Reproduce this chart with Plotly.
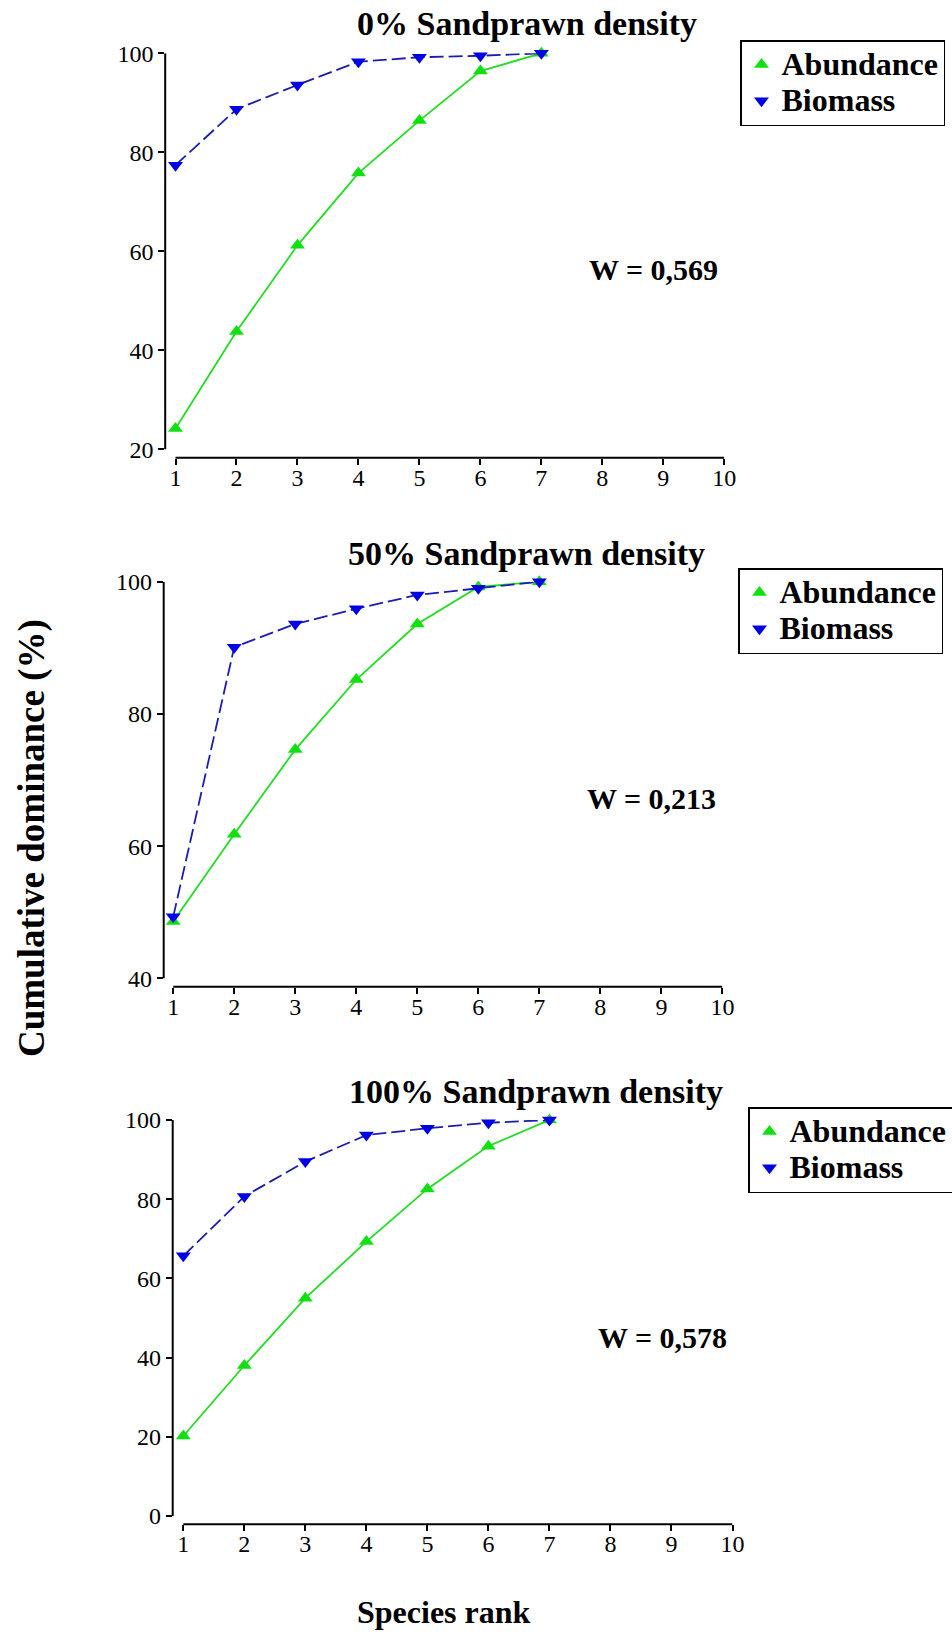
import plotly.graph_objects as go

# Species rank on the x axis
ranks = [1, 2, 3, 4, 5, 6, 7]
rank_ticks = [1, 2, 3, 4, 5, 6, 7, 8, 9, 10]

# Cumulative dominance (%) per sandprawn density treatment
abundance_0 = [24.2, 43.8, 61.2, 75.8, 86.4, 96.4, 100.0]
biomass_0 = [77.4, 88.7, 93.6, 98.3, 99.2, 99.5, 100.0]

abundance_50 = [48.6, 61.8, 74.6, 85.2, 93.6, 99.2, 100.0]
biomass_50 = [49.3, 90.1, 93.6, 95.9, 98.0, 99.0, 100.0]

abundance_100 = [20.2, 38.0, 55.0, 69.3, 82.6, 93.4, 100.0]
biomass_100 = [65.7, 80.7, 89.5, 96.2, 97.9, 99.3, 100.0]

panel_titles = ["0% Sandprawn density", "50% Sandprawn density", "100% Sandprawn density"]
w_labels = ["W = 0,569", "W = 0,213", "W = 0,578"]
y_ticks = [[20, 40, 60, 80, 100], [40, 60, 80, 100], [0, 20, 40, 60, 80, 100]]
series_names = ["Abundance", "Biomass"]

W, H = 952, 1634
SERIF = "Liberation Serif"
GREEN_LINE = "#22dd22"
GREEN_MARK = "#10e010"
BLUE_LINE = "#1c1cb0"
BLUE_MARK = "#0000e6"


def px(x):
    return x / W


def py(y):
    return 1 - y / H


# layout geometry of each panel (pixels): x domain, y domain, x range, y range
panels = [
    dict(xd=(165.2, 724.3), yd=(457.7, 53.3), xr=(0.831, 10), yr=(18.3, 100),
         title=(527, 23), w=(653, 270), leg=(740, 40)),
    dict(xd=(163.7, 722.4), yd=(986.7, 581.7), xr=(0.844, 10), yr=(38.73, 100),
         title=(526, 553), w=(651, 798), leg=(738, 568)),
    dict(xd=(172.7, 732.5), yd=(1524.3, 1120.0), xr=(0.826, 10), yr=(-2.1, 100),
         title=(536, 1091), w=(662, 1337), leg=(748, 1107)),
]

series = [(abundance_0, biomass_0), (abundance_50, biomass_50), (abundance_100, biomass_100)]
styles = [
    dict(line=dict(color=GREEN_LINE, width=1.8),
         marker=dict(symbol="triangle-up", size=13, color=GREEN_MARK)),
    dict(line=dict(color=BLUE_LINE, width=1.8, dash="14px,5px"),
         marker=dict(symbol="triangle-down", size=13, color=BLUE_MARK)),
]

fig = go.Figure()
layout = dict(
    width=W, height=H, margin=dict(l=0, r=0, t=0, b=0, autoexpand=False),
    paper_bgcolor="white", plot_bgcolor="white",
    font=dict(family=SERIF, color="black"),
    annotations=[], shapes=[],
)

tick_font = dict(family=SERIF, size=24, color="black")

for i, (p, pair) in enumerate(zip(panels, series)):
    n = i + 1
    xname = "x" if n == 1 else f"x{n}"
    yname = "y" if n == 1 else f"y{n}"
    xkey = "xaxis" if n == 1 else f"xaxis{n}"
    ykey = "yaxis" if n == 1 else f"yaxis{n}"
    legkey = "legend" if n == 1 else f"legend{n}"

    for name, values, st in zip(series_names, pair, styles):
        # connecting line
        fig.add_trace(go.Scatter(
            x=ranks, y=values, name=name, mode="lines", showlegend=False,
            xaxis=xname, yaxis=yname, cliponaxis=False, line=st["line"],
            hoverinfo="skip",
        ))
        # point symbols (also used as the legend key)
        fig.add_trace(go.Scatter(
            x=ranks, y=values, mode="markers",
            name=f'<span style="font-size:32px">{name}</span>',
            xaxis=xname, yaxis=yname, legend=legkey, cliponaxis=False,
            marker=st["marker"],
        ))

    layout[xkey] = dict(
        domain=[px(p["xd"][0]), px(p["xd"][1])], range=list(p["xr"]), anchor=yname,
        tickmode="array", tickvals=rank_ticks, ticks="outside", ticklen=6,
        tickwidth=1.5, tickcolor="black", showline=False, showgrid=False,
        zeroline=False, tickfont=tick_font, ticklabelstandoff=-8, automargin=False,
    )
    layout[ykey] = dict(
        domain=[py(p["yd"][0]), py(p["yd"][1])], range=list(p["yr"]), anchor=xname,
        tickmode="array", tickvals=y_ticks[i], ticks="outside", ticklen=6,
        tickwidth=1.5, tickcolor="black", showline=False, showgrid=False,
        zeroline=False, tickfont=tick_font, automargin=False,
    )
    # companion axis giving the x ticks their inner half so they cross the axis line
    okey = f"xaxis{n + 3}"
    layout[okey] = dict(
        overlaying=xname, anchor=yname, range=list(p["xr"]),
        tickmode="array", tickvals=rank_ticks, ticks="inside", ticklen=6,
        tickwidth=1.5, tickcolor="black", showticklabels=False,
        showline=False, showgrid=False, zeroline=False, automargin=False,
    )

    # detached axis lines
    layout["shapes"].append(dict(
        type="line", xref=xname, yref=f"{yname} domain",
        x0=rank_ticks[0], x1=rank_ticks[-1], y0=0, y1=0,
        line=dict(color="black", width=2),
    ))
    layout["shapes"].append(dict(
        type="line", xref=f"{xname} domain", yref=yname,
        x0=0, x1=0, y0=y_ticks[i][0], y1=y_ticks[i][-1],
        line=dict(color="black", width=2),
    ))

    layout["annotations"].append(dict(
        text=panel_titles[i], xref="paper", yref="paper",
        x=px(p["title"][0]), y=py(p["title"][1]), xanchor="center", yanchor="middle",
        showarrow=False, font=dict(family=SERIF, size=34, color="black", weight="bold"),
    ))
    layout["annotations"].append(dict(
        text=w_labels[i], xref="paper", yref="paper",
        x=px(p["w"][0]), y=py(p["w"][1]), xanchor="center", yanchor="middle",
        showarrow=False, font=dict(family=SERIF, size=30, color="black", weight="bold"),
    ))

    layout[legkey] = dict(
        x=px(p["leg"][0]), y=py(p["leg"][1]), xanchor="left", yanchor="top",
        xref="paper", yref="paper",
        bgcolor="white", bordercolor="black", borderwidth=1.5,
        font=dict(family=SERIF, size=25.5, color="black", weight="bold"),
        itemsizing="trace", tracegroupgap=0,
    )

# shared axis titles
layout["annotations"].append(dict(
    text="Cumulative dominance (%)", xref="paper", yref="paper",
    x=px(32), y=py(838), xanchor="center", yanchor="middle", textangle=-90,
    showarrow=False, font=dict(family=SERIF, size=37, color="black", weight="bold"),
))
layout["annotations"].append(dict(
    text="Species rank", xref="paper", yref="paper",
    x=px(444), y=py(1612), xanchor="center", yanchor="middle",
    showarrow=False, font=dict(family=SERIF, size=32, color="black", weight="bold"),
))

fig.update_layout(**layout)
fig.write_html("out.html")
